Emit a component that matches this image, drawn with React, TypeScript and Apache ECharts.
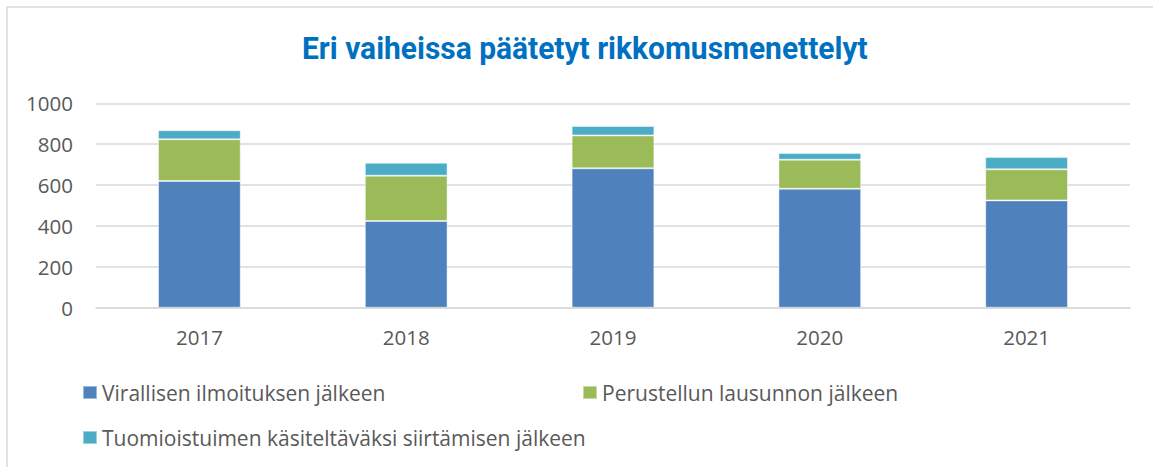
import React, { useEffect, useRef } from "react";
import * as echarts from "echarts";

const categories = ["2017", "2018", "2019", "2020", "2021"];
const seriesNames = [
  "Virallisen ilmoituksen jälkeen",
  "Perustellun lausunnon jälkeen",
  "Tuomioistuimen käsiteltäväksi siirtämisen jälkeen",
];
const virallinen = [620, 424, 682, 582, 525];
const perusteltu = [204, 222, 161, 142, 152];
const tuomioistuin = [44, 63, 46, 33, 60];
const yTicks = [0, 200, 400, 600, 800, 1000];
const colors = ["#4F81BD", "#9BBB59", "#4BACC6"];
const titleText = "Eri vaiheissa päätetyt rikkomusmenettelyt";

export default function App() {
  const ref = useRef<HTMLDivElement>(null);
  useEffect(() => {
    document.body.style.margin = "0";
    const chart = echarts.init(ref.current!, null, { renderer: "svg" });
    const font = "'Open Sans', 'Noto Sans', sans-serif";
    const titleFont = "Roboto, 'Liberation Sans', sans-serif";
    const titleSize = 32;
    const targetWidth = 566;
    let scaleX = 0.9;
    try {
      const c = document.createElement("canvas").getContext("2d");
      if (c) {
        c.font = `bold ${titleSize}px ${titleFont}`;
        const w = c.measureText(titleText).width;
        if (w > 0) scaleX = targetWidth / w;
      }
    } catch (e) {}
    const values = [virallinen, perusteltu, tuomioistuin];
    chart.setOption({
      animation: false,
      backgroundColor: "#ffffff",
      graphic: [
        {
          type: "rect",
          shape: { x: 7, y: 7, width: 1160, height: 480 },
          style: { fill: "none", stroke: "#d9d9d9", lineWidth: 1.5 },
          silent: true,
          z: -1,
        },
        {
          type: "text",
          x: 302,
          y: 48,
          scaleX,
          style: {
            text: titleText,
            fill: "#0070C0",
            font: `bold ${titleSize}px ${titleFont}`,
            align: "left",
            verticalAlign: "middle",
          },
        },
      ],
      legend: [
        { data: [seriesNames[0]], left: 82, top: 382 },
        { data: [seriesNames[1]], left: 582, top: 382 },
        { data: [seriesNames[2]], left: 82, top: 427 },
      ].map((l) => ({
        ...l,
        padding: 0,
        icon: "rect",
        itemWidth: 14,
        itemHeight: 13,
        itemGap: 5,
        textStyle: { color: "#595959", fontSize: 21, fontFamily: font },
      })),
      grid: { left: 96, right: 23, top: 103.3, bottom: 159.3, containLabel: false },
      xAxis: {
        type: "category",
        data: categories,
        axisLine: { lineStyle: { color: "#d9d9d9", width: 1.5 } },
        axisTick: { show: false },
        axisLabel: { color: "#595959", fontSize: 20.5, fontFamily: font, margin: 19 },
      },
      yAxis: {
        type: "value",
        min: yTicks[0],
        max: yTicks[yTicks.length - 1],
        interval: yTicks[1] - yTicks[0],
        axisLine: { show: false },
        axisTick: { show: false },
        axisLabel: {
          color: "#595959",
          fontSize: 20.5,
          fontFamily: font,
          margin: 23,
          formatter: (v: number) => String(v),
        },
        splitLine: { lineStyle: { color: "#d9d9d9", width: 1.5 } },
      },
      series: seriesNames.map((name, i) => ({
        name,
        type: "bar",
        stack: "total",
        barWidth: "40%",
        data: values[i],
        itemStyle: {
          color: colors[i],
          borderColor: "rgba(255,255,255,0.45)",
          borderWidth: 1,
        },
      })),
    });
    return () => chart.dispose();
  }, []);
  return <div ref={ref} style={{ width: 1153, height: 467 }} />;
}
